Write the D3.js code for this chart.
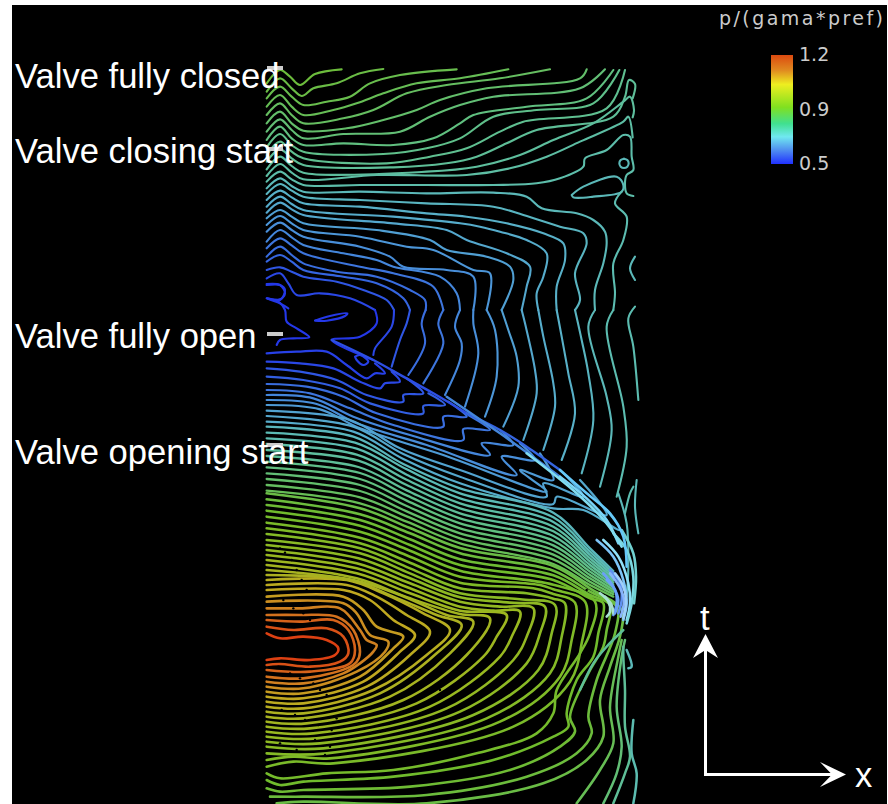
<!DOCTYPE html>
<html>
<head>
<meta charset="utf-8">
<script src="https://cdn.jsdelivr.net/npm/d3@7"></script>
<style>
body { margin: 0; background: #fff; }
svg { display: block; }
.contour { fill: none; stroke-linejoin: round; stroke-linecap: round; }
.label { font-family: "Liberation Sans", Arial, sans-serif; font-size: 34.6px; fill: #fff; }
.cbar { font-family: "DejaVu Sans", sans-serif; font-size: 19px; fill: #ccc; }
</style>
</head>
<body>
<svg width="888" height="804"></svg>
<script>
// pressure contours, flat lists of x,t per line
// t is counted in steps from the top, each band starts at its own offset
const bandOffsets = [0, 660, 1440];

// top band, wavy lines after the valve closes
const topLevels = [.88,.87,.86,.85,.84,.83,.82,.81,.80,.79,.78,.77,.76,.75,.72,.70,.68,.67,.66,.64,.62,.61,.60,.58,.57,.56,.54,.52,.50];
const topPaths = [
[20,70,60,30,90,50,120,75,165,42,245,28],
[20,95,60,55,95,85,125,108,160,85,230,70,300,40,370,27],
[20,115,60,80,95,110,130,135,200,125,270,110,330,70,420,45,590,28],
[20,140,60,105,95,140,130,165,220,150,290,130,370,100,470,70,600,55,745,28],
[20,165,60,130,95,165,130,190,250,175,340,150,440,100,560,75,720,55,870,28],
[20,190,60,155,95,190,130,212,260,205,370,180,470,150,540,120,680,85,960,55,980,28],
[20,215,60,178,95,210,130,235,250,222,420,215,510,170,600,135,700,110,960,85,1035,28],
[20,240,60,200,95,235,130,255,250,250,400,255,520,235,600,190,640,165,800,140,980,115,1060,30],
[20,262,60,222,95,255,130,275,370,282,500,265,600,235,700,170,830,150,1000,130,1078,30],
[20,285,60,245,95,275,130,295,380,310,510,290,620,265,720,215,790,185,1040,145,1095,30],
[20,305,60,268,95,295,130,315,400,322,560,310,650,290,740,250,830,210,1060,170,1095,110,1107,60,1125,72,1118,115],
[20,328,60,290,95,318,130,338,500,335,650,320,780,285,880,240,1000,190,1090,125,1110,110,1122,150,1118,172],
[20,348,60,312,95,338,130,358,350,345,620,345,750,325,860,290,960,245,1090,185,1105,170,1118,232],
[20,365,60,335,95,358,130,375,300,375,500,375,700,375,830,370,900,355,970,320,975,295,1040,270,1090,225,1110,230,1115,290,1120,330,1100,345,1095,370,1100,400,1120,408],
[20,385,60,355,95,378,130,395,300,395,500,400,700,398,800,410,845,445,950,460,1000,480,1035,515,1040,550,1030,610,1005,690,1005,750],
[20,402,60,372,95,392,130,410,300,420,500,430,700,440,790,465,900,500,970,520,980,550,945,640,960,720,945,750],
[20,420,60,392,95,412,130,430,300,440,500,460,620,470,740,490,850,520,910,550,915,600,890,680,890,750],
[20,440,60,410,95,432,130,450,400,470,600,490,660,500,720,515,800,540,860,580,850,650,830,700,835,750],
[20,458,60,428,95,448,130,465,400,490,560,510,620,540,740,580,810,620,800,680,785,750],
[20,475,60,450,95,470,130,490,350,510,510,540,560,570,680,590,750,620,760,660,725,750],
[20,495,60,468,95,490,130,510,300,530,440,560,520,570,640,630,690,640,680,750],
[20,515,60,488,95,510,130,530,300,560,390,590,430,620,560,630,640,650,640,750],
[20,545,60,510,95,532,130,555,250,580,350,600,400,620,540,650,590,700,600,750],
[20,565,60,535,95,556,130,580,300,620,400,640,520,680,550,750],
[20,590,60,560,95,585,130,610,230,635,350,650,450,690,495,720,497,750],
[20,605,60,585,95,605,130,630,250,650,350,670,430,715,450,750],
[20,630,60,622,95,635,130,650,230,665,310,690,380,720,402,750],
[20,655,60,640,85,670,110,705,180,700,270,715,345,750],
[20,675,60,675,75,690,60,720,20,715,60,730,85,745]
];

// small closed pockets and the loose teal pieces at the top right
const pocketLevels = [.72,.72,.74,.72];
const pocketPaths = [
[1092,296,1102,300,1106,310,1102,320,1092,324,1082,320,1078,310,1082,300,1092,296],
[935,405,970,380,1070,350,1090,375,1085,395,1000,410,940,412,935,405],
[1085,395,1065,430,1100,470,1090,540,1060,610,1065,700,1060,750],
[1125,590,1110,625,1125,660]
];

// verticals running down into the shock, same order as the top band ends
const verticalLevels = [.52,.54,.57,.58,.60,.61,.62,.64,.66,.67,.68,.70,.72,.74];
const verticalPaths = [
[402,90,395,140,345,205,340,225],
[450,90,440,130,420,180,395,260],
[497,90,485,130,495,190,445,285],
[550,90,535,130,550,190,490,310],
[600,90,585,140,605,190,600,240,555,345],
[640,90,640,130,655,220,615,380],
[680,90,705,150,710,290,675,410],
[725,90,745,150,770,230,775,320,730,440],
[785,90,795,130,825,270,830,340,790,480],
[835,90,850,170,880,310,885,380,850,510],
[890,90,905,170,925,280,945,400,905,540],
[945,90,965,180,985,280,1000,420,965,580],
[1005,90,985,140,1040,350,1055,450,1020,620],
[1060,90,1040,140,1090,380,1100,500,1070,650]
];

// low pressure pocket on the left
const lowPocketLevels = [.50,.50,.50,.51];
const lowPocketPaths = [
[345,90,350,130,300,170,215,180,340,240],
[20,12,60,15,75,40,60,58,20,55,55,65,75,90,80,125,110,145,148,172,100,175,60,180,50,195],
[165,122,210,108,262,100,255,108,200,122,165,122],
[285,230,300,225,325,245,310,255,290,240,285,230]
];

// lines from the left wall that end in hooks under the shock
const hookLevels = [.51,.52,.54,.55,.57,.58,.60,.61,.63,.65,.66,.67];
const hookPaths = [
[20,220,110,215,200,215,260,255,320,295,345,280,375,280,345,250],
[20,245,120,250,220,265,300,305,360,325,375,310,420,305,395,275],
[20,265,120,275,230,300,320,345,430,365,430,345,490,340,440,295],
[20,290,130,300,240,325,330,370,490,400,490,378,555,375,505,340],
[20,312,140,320,250,350,350,400,550,440,550,410,620,410,565,365],
[20,330,150,340,270,385,400,435,610,480,610,447,690,450,625,405],
[20,345,160,355,280,410,450,465,690,525,665,490,760,495,720,450],
[20,360,170,372,290,430,500,495,770,585,725,530,825,540,780,490],
[20,375,180,388,300,445,550,525,860,635,780,570,880,600,840,520],
[20,392,270,420,420,505,600,570,860,650,850,610,970,650,900,570],
[20,408,280,440,430,522,600,590,880,672,890,650,1040,705,960,600],
[20,425,280,455,430,537,600,610,880,685,970,690,1080,750,1040,690]
];

// fan of lines that run into the nose
const fanLevels = [.71,.73,.74,.76,.77,.78,.80,.81,.82,.83,.84,.85];
const fanPaths = [
[20,440,280,470,430,552,600,625,880,698,990,805,1060,873],
[20,458,285,488,440,568,600,640,880,712,990,815,1060,880],
[20,475,290,506,440,584,600,655,880,726,990,825,1060,887],
[20,492,290,524,440,599,600,670,880,740,990,835,1060,894],
[20,510,295,542,440,615,600,685,880,754,990,845,1060,901],
[20,528,295,561,440,631,600,700,880,768,990,855,1060,908],
[20,545,300,579,440,646,600,715,880,782,990,865,1060,915],
[20,562,300,597,440,662,600,730,880,796,990,875,1060,922],
[20,580,300,615,440,678,600,745,880,810,990,885,1060,929],
[20,597,300,633,440,694,600,760,880,824,990,895,1060,936],
[20,615,300,652,440,709,600,775,880,838,990,905,1060,943],
[20,632,300,670,440,725,600,790,880,852,990,915,1060,950]
];

const shockLevels = [.53,.56,.60];
const shockPaths = [
[215,180,340,240,430,290,520,340,620,400],
[620,400,720,450,800,500,900,570],
[560,350,720,460,900,590]
];

const farRightLevels = [.74,.74,.72,.72];
const farRightPaths = [
[1125,80,1105,115,1120,200,1135,360],
[1095,700,1110,640,1120,620],
[1130,600,1125,680,1135,760],
[1075,640,1100,730,1105,860,1100,950]
];

// hairpins around the pressure peak
const hairpinLevels = [1.2,1.18,1.16,1.14,1.12,1.10,1.08,1.06,1.05,1.04,1.02,1.01,1.0,.99,.98,.97,.96,.95,.94,.93,.92,.91,.90,.89,.88,.87];
const hairpinPaths = [
[20,280,60,295,130,290,200,300,235,325,225,345,150,360,60,355,20,360],
[20,260,100,270,200,265,250,290,265,340,240,365,150,380,60,372,20,375],
[20,240,120,245,220,240,265,270,285,330,270,370,150,395,20,390],
[20,225,120,225,230,230,280,270,300,335,290,365,260,385,130,415,20,410],
[20,205,120,205,240,205,300,270,320,300,350,315,340,335,300,370,250,400,130,430,20,425],
[20,185,250,190,290,220,330,285,385,305,375,335,290,395,130,445,20,440],
[20,170,250,170,310,210,350,260,430,290,400,325,300,410,130,460,20,455],
[20,150,250,150,330,180,400,240,465,285,420,335,310,425,130,475,20,470],
[20,135,260,135,350,170,440,225,510,275,450,345,320,440,130,490,20,485],
[20,120,260,120,370,160,490,220,570,270,500,345,340,450,130,505,20,500],
[20,105,270,120,400,170,530,225,605,255,530,340,360,460,130,520,20,515],
[20,90,280,120,420,165,560,225,640,245,570,340,390,470,130,535,20,530],
[20,75,290,115,450,175,600,222,690,235,620,345,430,480,140,550,20,545],
[20,60,290,100,450,160,600,212,740,225,710,290,670,350,470,490,150,565,20,560],
[20,45,290,85,450,145,600,200,700,212,780,215,755,290,720,350,510,500,160,580,20,575],
[20,30,290,70,450,130,600,185,720,200,820,205,800,290,760,360,560,505,170,595,20,590],
[20,15,295,55,450,115,600,172,750,188,855,200,840,280,800,370,600,515,180,610,20,605],
[20,0,300,40,450,100,600,160,780,178,885,195,875,280,835,390,640,525,190,625,20,620],
[20,-18,300,25,450,85,600,145,800,160,880,176,915,190,905,290,870,400,680,535,200,640,20,640],
[20,-35,300,10,450,68,600,128,820,145,880,162,945,188,935,300,900,410,720,545,210,655,100,650,20,660],
[20,-52,300,-7,450,50,600,110,840,135,880,148,975,185,965,310,930,425,760,560,220,670,100,665,20,680],
[20,-70,300,-25,450,32,600,92,880,134,1005,185,990,280,960,340,890,450,880,520,830,580,650,640,400,690,200,700,60,715,20,700],
[20,-88,300,-43,450,15,600,75,880,120,990,175,1030,190,1015,280,1000,350,950,420,920,520,925,560,880,590,700,660,400,710,130,725,60,735,20,720],
[20,-105,300,-60,450,-2,600,58,880,106,990,165,1050,195,1040,270,1030,320,985,400,930,530,945,575,900,620,750,690,450,740,130,750,60,755,20,745],
[20,-122,300,-77,450,-20,600,40,880,92,990,155,1070,200,1065,280,1010,420,985,530,995,580,950,640,800,710,500,765,130,770,30,770],
[20,-140,300,-95,450,-36,600,24,880,78,990,145,1085,210,1082,280,1050,380,1020,480,1030,590,980,660,850,730,500,790,130,785,50,790]
];

// right hand lines below the nose
const lowRightLevels = [.85,.82,.78,.74,.72,.78];
const lowRightPaths = [
[950,790,1020,690,1060,610,1050,500,1075,350,1085,300],
[1030,790,1070,700,1085,620,1070,500,1085,350,1095,300],
[1060,790,1095,700,1110,650,1095,560,1095,450,1090,350,1090,320],
[1120,790,1130,700,1115,640,1120,540],
[1100,330,1115,380,1105,385],
[1090,270,1040,320,1000,370,960,450]
];

// bright arcs at the nose of the shock, in middle band steps
const noseColors = ["#7cc4f8","#90e0f8","#7ad8e0","#5f90f0","#6aa0f8","#70d0d0","#a8e0d0","#66c8f8","#7ad4f8","#80dcf0","#6aa0f8","#88b4fa","#a0d0fa","#a8e0d0"];
const nosePaths = [
[1010,780,1060,830,1090,900,1100,970,1090,1020],
[1030,780,1075,830,1105,910,1110,970,1100,1020],
[1060,760,1100,810,1120,890,1115,970,1100,1030],
[1050,870,1080,910,1085,960,1075,1000],
[1040,900,1065,930,1070,970,1060,1005],
[1085,750,1120,820,1128,890,1122,970],
[1035,950,1055,975,1060,1000],
[900,570,980,640,1050,700,1090,770,1100,860],
[900,590,980,655,1040,720,1075,790],
[800,520,950,640,1040,730,1085,800],
[1030,880,1060,920,1075,960,1065,1000],
[1050,880,1078,920,1092,960,1082,1010],
[1065,880,1088,915,1098,960,1090,1015],
[1020,940,1045,965,1050,995,1040,1010]
];

// dark gaps in the lines near the wall
const speckleX = [60,75,95,110,125,140,70,100,130,150,55,90,120,160,180,200,65,105,135,175,215,230,60,110,165,195,210,540,660,980];
const speckleT = [1465,1478,1500,1530,1560,1590,1620,1645,1660,1680,1820,1840,1855,1870,1890,1905,1950,1965,1980,1995,2010,1975,2050,2070,2040,2085,2060,1890,1905,1590];

const levelStops = [.5,.56,.62,.68,.74,.80,.85,.90,.98,1.06,1.12,1.17,1.2];
const levelColors = ["#2438e8","#3565e0","#4c96d8","#58b0c8","#5cbcb0","#5fbf8a","#66bd55","#70bb2c","#98b820","#c0a820","#d08020","#d85a18","#dc4012"];

const eventLabels = ["Valve fully closed","Valve closing start","Valve fully open","Valve opening start"];
const eventLabelRows = [84,309,864,1212];
const eventTickRows = [24,267,822,1155];

const colorbarTicks = ["1.2","0.9","0.5"];
const colorbarStops = [[0,"#dc4a10"],[.14,"#e08a20"],[.27,"#eeee20"],[.48,"#80e020"],[.63,"#40e090"],[.75,"#70e8f0"],[.87,"#5090f0"],[1,"#2030ff"]];

const svg = d3.select("svg");
const width = +svg.attr("width"), height = +svg.attr("height");

svg.append("rect").attr("x", 12).attr("y", 5).attr("width", width - 13).attr("height", height - 5).attr("fill", "#000");

const xScale = d3.scaleLinear().domain([0, 1140]).range([260, 640]);
const tScale = d3.scaleLinear().domain([0, 2232]).range([60, 804]);
const pColor = d3.scaleLinear().domain(levelStops).range(levelColors);

const line = d3.line()
  .x(d => xScale(d[0]))
  .y(d => tScale(d[1]))
  .curve(d3.curveCatmullRom.alpha(0.5));

const g = svg.append("g");

function drawBand(paths, colorOf, offset, w) {
  paths.forEach((p, i) => {
    const pts = [];
    for (let k = 0; k < p.length; k += 2) pts.push([p[k], p[k + 1] + offset]);
    g.append("path")
      .datum(pts)
      .attr("class", "contour")
      .attr("stroke", colorOf(i))
      .attr("stroke-width", w)
      .attr("d", line);
  });
}
const byLevel = levels => i => pColor(levels[i]);

drawBand(topPaths, byLevel(topLevels), bandOffsets[0], 2.1);
drawBand(pocketPaths, byLevel(pocketLevels), bandOffsets[0], 2.1);
drawBand(verticalPaths, byLevel(verticalLevels), bandOffsets[1], 2.1);
drawBand(lowPocketPaths, byLevel(lowPocketLevels), bandOffsets[1], 2.1);
drawBand(hookPaths, byLevel(hookLevels), bandOffsets[1], 2.2);
drawBand(fanPaths, byLevel(fanLevels), bandOffsets[1], 2.3);
drawBand(shockPaths, byLevel(shockLevels), bandOffsets[1], 2.4);
drawBand(farRightPaths, byLevel(farRightLevels), bandOffsets[1], 2.1);
drawBand(hairpinPaths, byLevel(hairpinLevels), bandOffsets[2], 2.6);
drawBand(lowRightPaths, byLevel(lowRightLevels), bandOffsets[2], 2.5);
drawBand(nosePaths, i => noseColors[i], bandOffsets[1], 2.6);

g.selectAll(".speck").data(speckleX).join("circle")
  .attr("class", "speck")
  .attr("cx", d => xScale(d))
  .attr("cy", (d, i) => tScale(speckleT[i]))
  .attr("r", 1.2)
  .attr("fill", "#000");

// tick marks and labels for the valve events
eventTickRows.forEach(r => {
  svg.append("rect").attr("x", 267).attr("y", tScale(r) - 2).attr("width", 16).attr("height", 4).attr("fill", "#ccc");
});
eventLabels.forEach((s, i) => {
  svg.append("text").attr("class", "label").attr("x", 15).attr("y", tScale(eventLabelRows[i])).text(s);
});

// colorbar
const grad = svg.append("defs").append("linearGradient").attr("id", "cb")
  .attr("x1", 0).attr("x2", 0).attr("y1", 0).attr("y2", 1);
colorbarStops.forEach(s => grad.append("stop").attr("offset", s[0]).attr("stop-color", s[1]));
svg.append("rect").attr("x", 771).attr("y", 55).attr("width", 22).attr("height", 109).attr("fill", "url(#cb)");
const cbY = d3.scalePoint().domain(colorbarTicks).range([61, 170]);
svg.selectAll(".cbtick").data(colorbarTicks).join("text")
  .attr("class", "cbar cbtick")
  .attr("x", 799)
  .attr("y", d => cbY(d))
  .text(d => d);
svg.append("text").attr("class", "cbar").attr("x", 719).attr("y", 25)
  .attr("textLength", 164).attr("lengthAdjust", "spacing").text("p/(gama*pref)");

// t and x arrows
const axes = svg.append("g").attr("fill", "#fff").attr("stroke", "none");
axes.append("rect").attr("x", 704).attr("y", 645).attr("width", 3).attr("height", 131);
axes.append("rect").attr("x", 704).attr("y", 773).attr("width", 130).attr("height", 3);
axes.append("path").attr("d", "M705.5,634L693,658L705.5,650L718,658Z");
axes.append("path").attr("d", "M846,774.5L820,762L832,774.5L820,787Z");
svg.append("text").attr("class", "label").attr("x", 700).attr("y", 630).text("t");
svg.append("text").attr("class", "label").attr("x", 855).attr("y", 787).text("x");
</script>
</body>
</html>
